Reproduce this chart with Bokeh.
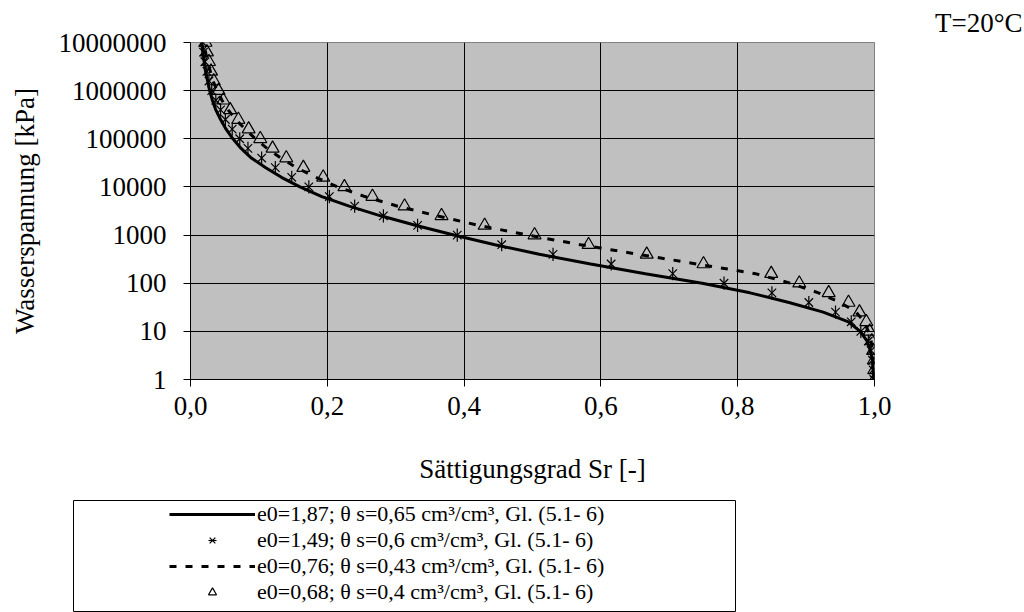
import math
from bokeh.plotting import figure
from bokeh.models import FixedTicker, Range1d, Legend, LegendItem, Title
from bokeh.layouts import column, row
from bokeh.embed import file_html
from bokeh.resources import INLINE

# ---------------- data ----------------
psi = [1, 1.58, 2.51, 3.98, 6.31, 10, 15.8, 25.1, 39.8, 63.1,
       100, 158, 251, 398, 631, 1000, 1585, 2512, 3981, 6310,
       10000, 15849, 25119, 39811, 63096, 100000, 158489, 251189, 398107, 630957,
       1000000, 1584893, 2511886, 3981072, 6309573, 10000000]

# e0=1,87 (solid line)
sr_e187 = [0.999, 0.998, 0.997, 0.994, 0.989, 0.979, 0.962, 0.925, 0.875, 0.818,
           0.748, 0.665, 0.585, 0.510, 0.445, 0.385, 0.330, 0.278, 0.232, 0.192,
           0.160, 0.133, 0.110, 0.089, 0.074, 0.062, 0.052, 0.044, 0.037, 0.032,
           0.028, 0.025, 0.022, 0.020, 0.018, 0.016]
# e0=1,49 (stars)
sr_e149 = [0.999, 0.998, 0.997, 0.995, 0.991, 0.980, 0.966, 0.943, 0.904, 0.850,
           0.780, 0.705, 0.615, 0.530, 0.455, 0.390, 0.332, 0.282, 0.240, 0.203,
           0.173, 0.148, 0.124, 0.104, 0.084, 0.072, 0.061, 0.051, 0.044, 0.037,
           0.031, 0.027, 0.024, 0.021, 0.019, 0.018]
# e0=0,76 (dashed line)
sr_e076 = [0.9995, 0.999, 0.998, 0.997, 0.995, 0.991, 0.985, 0.973, 0.950, 0.918,
           0.877, 0.826, 0.740, 0.655, 0.570, 0.493, 0.422, 0.360, 0.303, 0.255,
           0.215, 0.183, 0.155, 0.132, 0.112, 0.095, 0.080, 0.066, 0.055, 0.046,
           0.039, 0.033, 0.029, 0.025, 0.022, 0.020]
# e0=0,68 (triangles)
sr_e068 = [1.0, 0.9995, 0.999, 0.998, 0.996, 0.993, 0.988, 0.978, 0.962, 0.933,
           0.890, 0.849, 0.750, 0.667, 0.582, 0.503, 0.430, 0.367, 0.313, 0.266,
           0.225, 0.194, 0.165, 0.140, 0.120, 0.102, 0.085, 0.070, 0.058, 0.048,
           0.041, 0.034, 0.030, 0.027, 0.024, 0.022]

series_labels = ["e0=1,87; \u03b8 s=0,65 cm\u00b3/cm\u00b3, Gl. (5.1- 6)",
                 "e0=1,49; \u03b8 s=0,6 cm\u00b3/cm\u00b3, Gl. (5.1- 6)",
                 "e0=0,76; \u03b8 s=0,43 cm\u00b3/cm\u00b3, Gl. (5.1- 6)",
                 "e0=0,68; \u03b8 s=0,4 cm\u00b3/cm\u00b3, Gl. (5.1- 6)"]

x_ticks = [0, 0.2, 0.4, 0.6, 0.8, 1]
x_tick_labels = ["0,0", "0,2", "0,4", "0,6", "0,8", "1,0"]
y_ticks = [1, 10, 100, 1000, 10000, 100000, 1000000, 10000000]
y_tick_labels = ["1", "10", "100", "1000", "10000", "100000", "1000000", "10000000"]

x_title = "S\u00e4ttigungsgrad Sr [-]"
y_title = "Wasserspannung [kPa]"
note = "T=20\u00b0C"

FONT = "Liberation Serif"
FS = "27px"

STYLES = [
    dict(kind="line", line_color="black", line_width=3),
    dict(kind="star", line_color="black", line_width=1.2),
    dict(kind="line", line_color="black", line_width=3, line_dash="7 9"),
    dict(kind="tri", line_color="black", line_width=1.2),
]


def draw_series(fig, sr, style, size):
    st = dict(style)
    kind = st.pop("kind")
    if kind == "line":
        return [fig.line(sr, psi, **st)]
    if kind == "star":
        return [fig.scatter(sr, psi, marker="x", size=size, **st),
                fig.scatter(sr, psi, marker="dash", angle=math.pi / 2,
                            size=size * 1.1, **st)]
    return [fig.scatter(sr, psi, marker="triangle", size=size + 1,
                        fill_color=None, **st)]


series = [sr_e187, sr_e149, sr_e076, sr_e068]

# ---------------- chart ----------------
p = figure(width=1024, height=500, y_axis_type="log",
           x_range=Range1d(0, 1), y_range=Range1d(1, 1e7),
           toolbar_location=None, output_backend="svg", title=None,
           min_border_left=190, min_border_right=150,
           min_border_top=42, min_border_bottom=121)
p.background_fill_color = "#c0c0c0"
p.border_fill_color = "white"
p.outline_line_color = "#808080"
p.outline_line_width = 1

for sr, st in zip(series, STYLES):
    draw_series(p, sr, st, 12)

p.xaxis.ticker = FixedTicker(ticks=x_ticks)
p.xaxis.major_label_overrides = dict(zip(x_ticks, x_tick_labels))
p.yaxis.ticker = FixedTicker(ticks=y_ticks)
p.yaxis.major_label_overrides = dict(zip(y_ticks, y_tick_labels))
p.xgrid.ticker = FixedTicker(ticks=x_ticks[1:-1])
p.ygrid.ticker = FixedTicker(ticks=y_ticks[1:-1])
p.grid.grid_line_color = "black"
p.grid.grid_line_width = 1
p.grid.grid_line_alpha = 1

for ax in (p.xaxis, p.yaxis):
    ax.axis_line_color = "black"
    ax.axis_line_width = 1
    ax.major_tick_line_color = "black"
    ax.major_tick_in = 0
    ax.major_tick_out = 7
    ax.minor_tick_line_color = None
    ax.major_label_text_font = FONT
    ax.major_label_text_font_size = FS
    ax.major_label_text_color = "black"
    ax.axis_label_text_font = FONT
    ax.axis_label_text_font_size = FS
    ax.axis_label_text_font_style = "normal"
    ax.axis_label_text_color = "black"

p.xaxis.axis_label = x_title
p.yaxis.axis_label = y_title
p.xaxis.major_label_standoff = 10
p.xaxis.axis_label_standoff = 36
p.yaxis.major_label_standoff = 17
p.yaxis.axis_label_standoff = 16

p.add_layout(Title(text=note, align="right", offset=-148, text_font=FONT,
                   text_font_size=FS, text_font_style="normal",
                   text_color="black"), "above")

# ---------------- legend box (frame of a second plot) ----------------
# y range lies below the data, so the series here serve only as legend glyphs
p2 = figure(width=1024, height=112, x_range=Range1d(0, 1), y_range=Range1d(-2, -1),
            x_axis_location=None, y_axis_location=None, toolbar_location=None,
            output_backend="svg", title=None,
            min_border_left=73, min_border_right=289,
            min_border_top=0, min_border_bottom=0)
p2.grid.visible = False
p2.outline_line_color = "black"
p2.outline_line_width = 1
p2.background_fill_color = "white"
p2.border_fill_color = "white"

items = []
for sr, st, lab in zip(series, STYLES, series_labels):
    rs = draw_series(p2, sr, st, 8)
    items.append(LegendItem(label=lab, renderers=rs))

legend = Legend(items=items, location=(96, 7), orientation="vertical",
                glyph_width=86, glyph_height=20, label_height=20,
                label_standoff=2, spacing=0, padding=0, margin=0,
                border_line_color=None, background_fill_alpha=0,
                label_text_font=FONT, label_text_font_size="22px",
                label_text_color="black")
p2.add_layout(legend)

layout = column(p, row(p2))
open("out.html", "w").write(file_html(layout, INLINE))
